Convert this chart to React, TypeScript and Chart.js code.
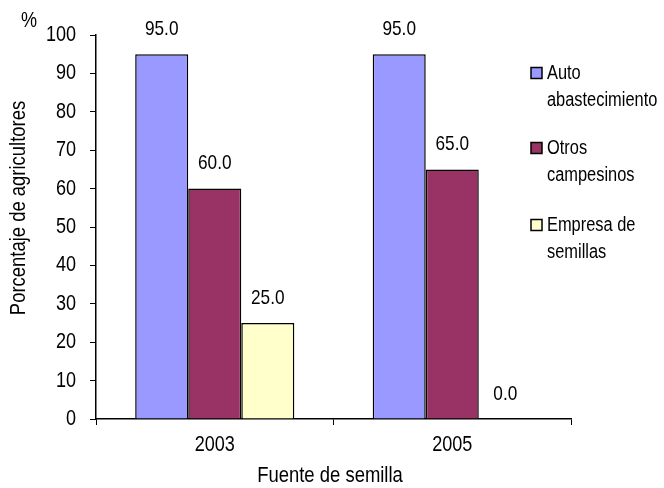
import React, { useEffect, useRef } from "react";
import { Chart, registerables } from "chart.js";

Chart.register(...registerables);

const categories = ["2003", "2005"];
const seriesNames = [["Auto", "abastecimiento"], ["Otros", "campesinos"], ["Empresa de", "semillas"]];
const autoAbastecimiento = [95.0, 95.0];
const otrosCampesinos = [60.0, 65.0];
const empresaSemillas = [25.0, 0.0];
const seriesColors = ["#9999FF", "#993366", "#FFFFCC"];
const yTicks = [0, 10, 20, 30, 40, 50, 60, 70, 80, 90, 100];

const FONT = "'Liberation Sans', Arial, Helvetica, sans-serif";
const SQUEEZE = 0.82;

function narrowText(ctx: CanvasRenderingContext2D, text: string, x: number, y: number, size: number, align: CanvasTextAlign, rotate = 0) {
  ctx.save();
  ctx.translate(x, y);
  if (rotate) ctx.rotate(rotate);
  ctx.scale(SQUEEZE, 1);
  ctx.font = `${size}px ${FONT}`;
  ctx.textAlign = align;
  ctx.textBaseline = "middle";
  ctx.fillStyle = "#000";
  ctx.fillText(text, 0, 0);
  ctx.restore();
}

const extrasPlugin = {
  id: "extras",
  afterDatasetsDraw(chart: any) {
    const ctx = chart.ctx;
    chart.data.datasets.forEach((ds: any, di: number) => {
      const meta = chart.getDatasetMeta(di);
      meta.data.forEach((el: any, i: number) => {
        const v = ds.data[i] as number;
        narrowText(ctx, v.toFixed(1), el.x, el.y - 25, 21, "center");
      });
    });
  },
  afterDraw(chart: any) {
    const ctx = chart.ctx;
    const xs = chart.scales.x;
    const ys = chart.scales.y;
    // tick labels
    ys.ticks.forEach((t: any) => {
      narrowText(ctx, String(t.value), 76, ys.getPixelForValue(t.value), 22, "right");
    });
    categories.forEach((c, i) => {
      narrowText(ctx, c, xs.getPixelForValue(i), 445, 22, "center");
    });
    // unit and titles
    narrowText(ctx, "%", 29, 21, 22, "center");
    narrowText(ctx, "Fuente de semilla", 330, 476, 22.5, "center");
    narrowText(ctx, "Porcentaje de agricultores", 19, 208, 22.5, "center", -Math.PI / 2);
    // legend
    const firstY = [73, 148, 225];
    seriesNames.forEach((lines, i) => {
      const y = firstY[i];
      ctx.save();
      ctx.fillStyle = seriesColors[i];
      ctx.fillRect(531, y - 5.5, 11, 11);
      ctx.strokeStyle = "#000";
      ctx.lineWidth = 1.5;
      ctx.strokeRect(531, y - 5.5, 11, 11);
      ctx.restore();
      lines.forEach((t, j) => narrowText(ctx, t, 547, y + j * 27, 20, "left"));
    });
  },
};

export default function App() {
  const ref = useRef<HTMLCanvasElement>(null);
  useEffect(() => {
    document.body.style.margin = "0";
    const seriesData = [autoAbastecimiento, otrosCampesinos, empresaSemillas];
    const chart = new Chart(ref.current as HTMLCanvasElement, {
      type: "bar",
      data: {
        labels: categories,
        datasets: seriesData.map((d, i) => ({
          label: seriesNames[i].join(" "),
          data: d,
          backgroundColor: seriesColors[i],
          borderColor: "#000",
          borderWidth: 1.5,
          categoryPercentage: 0.67,
          barPercentage: 1.0,
        })),
      },
      options: {
        animation: false,
        responsive: false,
        layout: { padding: { top: 35, right: 93, bottom: 0, left: 0 } },
        plugins: { legend: { display: false }, tooltip: { enabled: false } },
        scales: {
          x: {
            offset: true,
            grid: { display: true, drawOnChartArea: false, offset: true, tickLength: 6, color: "#000" },
            border: { display: true, color: "#000", width: 1.5 },
            ticks: { display: false },
            afterFit: (scale: any) => { scale.height = 69; },
          },
          y: {
            min: 0,
            max: 100,
            afterBuildTicks: (scale: any) => { scale.ticks = yTicks.map((v) => ({ value: v })); },
            grid: { display: true, drawOnChartArea: false, tickLength: 6, color: "#000" },
            border: { display: true, color: "#000", width: 1.5 },
            ticks: { display: false },
            afterFit: (scale: any) => { scale.width = 96; },
          },
        },
      },
      plugins: [extrasPlugin],
    });
    return () => chart.destroy();
  }, []);
  return <canvas ref={ref} width={664} height={488} style={{ display: "block" }} />;
}
